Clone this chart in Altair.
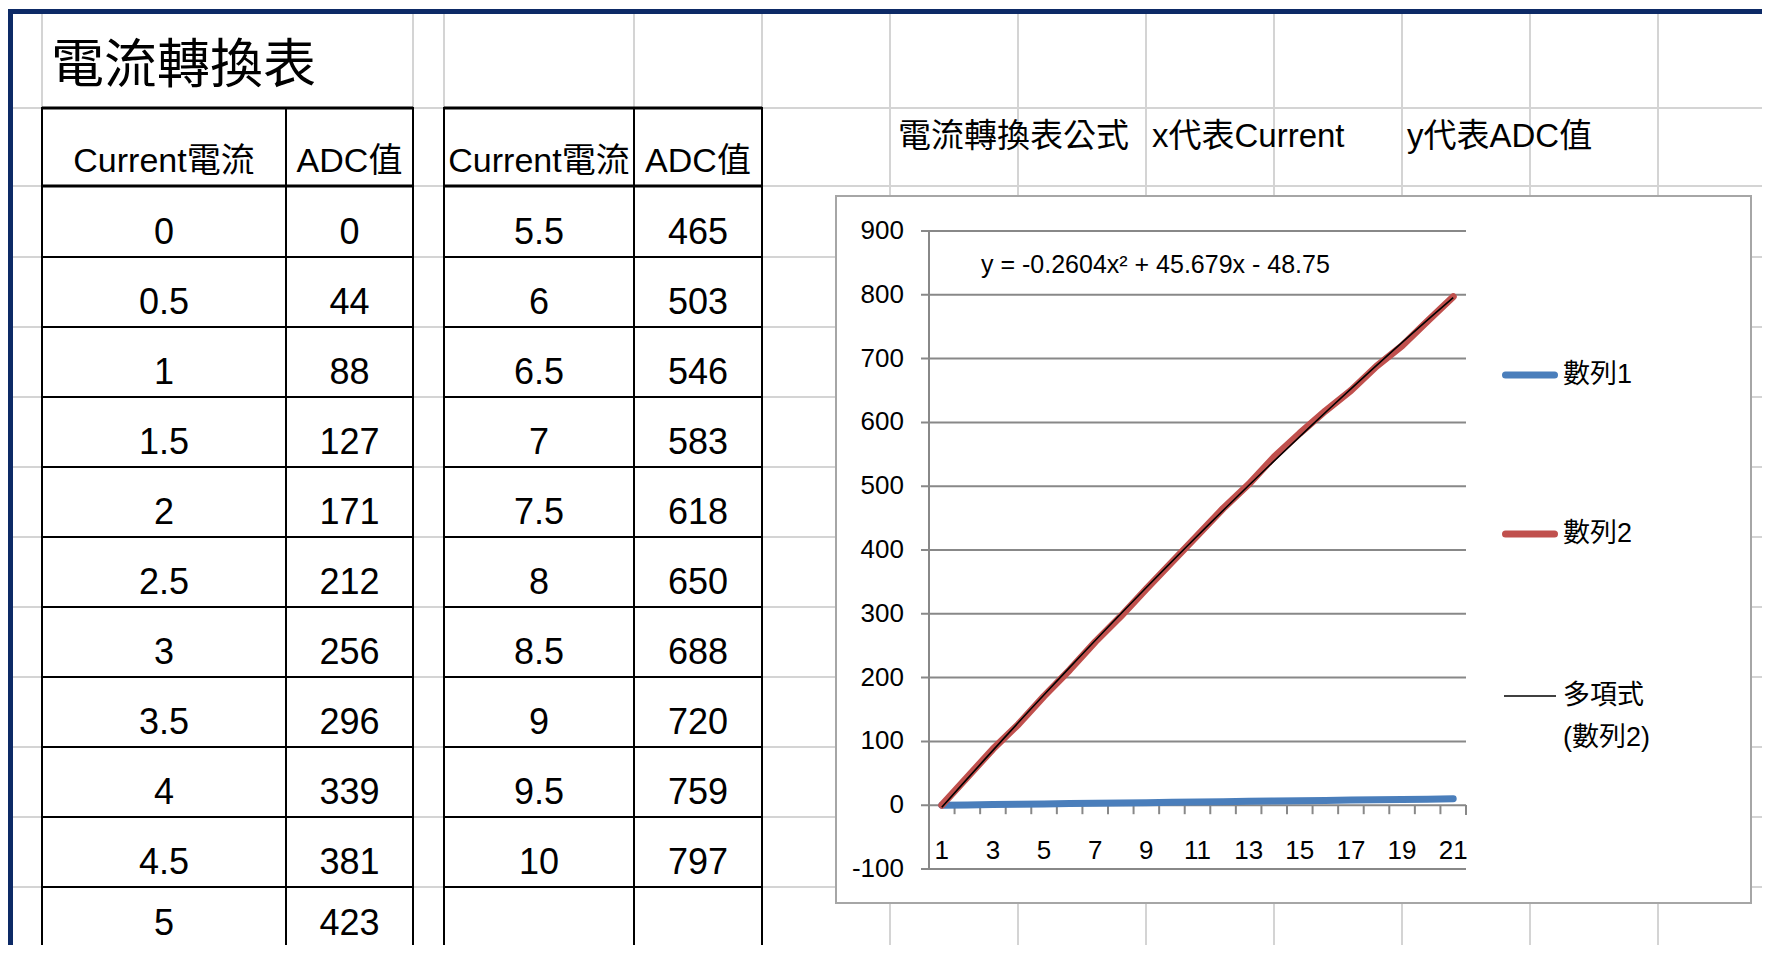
import altair as alt
import pandas as pd

# ---------------- data ----------------
categories = [1, 2, 3, 4, 5, 6, 7, 8, 9, 10, 11, 12, 13, 14, 15, 16, 17, 18, 19, 20, 21]
current = [0, 0.5, 1, 1.5, 2, 2.5, 3, 3.5, 4, 4.5, 5, 5.5, 6, 6.5, 7, 7.5, 8, 8.5, 9, 9.5, 10]
adc = [0, 44, 88, 127, 171, 212, 256, 296, 339, 381, 423, 465, 503, 546, 583, 618, 650, 688, 720, 759, 797]
series_names = ["數列1", "數列2"]
trend_label = ["多項式", "(數列2)"]
y_ticks = [-100, 0, 100, 200, 300, 400, 500, 600, 700, 800, 900]
x_tick_labels = [1, 3, 5, 7, 9, 11, 13, 15, 17, 19, 21]
sheet_title = "電流轉換表"
table_headers = ["Current電流", "ADC值"]
formula_cells = ["電流轉換表公式", "x代表Current", "y代表ADC值"]
equation = "y = -0.2604x² + 45.679x - 48.75"

# ---------------- layout / style ----------------
M = 8
W, H = 1754, 937
FONT_LAT = "Liberation Sans, Noto Sans CJK TC, sans-serif"
FONT_CJK = "Noto Sans CJK TC, sans-serif"
SHEET_GRID = "#d4d4d4"
NAVY = "#0d2a66"
AXIS_GREY = "#888888"
BLUE = "#4a7ebb"
RED = "#c0504d"

GRID_X = [42, 413, 444, 634, 762, 890, 1018, 1146, 1274, 1402, 1530, 1658]
ROW_H = 70
GRID_Y = [108, 186] + [257 + ROW_H * k for k in range(10)]
TABLE_COLS = [(42, 286, 413), (444, 634, 762)]
LAST_BASELINE = 935  # keep the bottom row inside the canvas


def pscale_x():
    return alt.Scale(domain=[M, W + M], range=[0, W], nice=False, zero=False)


def pscale_y():
    return alt.Scale(domain=[M, H + M], range=[0, H], nice=False, zero=False)


def PX(f):
    return alt.X(f"{f}:Q", scale=pscale_x(), axis=None)


def PY(f):
    return alt.Y(f"{f}:Q", scale=pscale_y(), axis=None)


def CXS():
    return alt.Scale(domain=[0.5, 21.5], range=[929 - M, 1466 - M], nice=False, zero=False)


def CYS():
    return alt.Scale(domain=[-100, 900], range=[869 - M, 231 - M], nice=False, zero=False)


# ---------------- sheet rules ----------------
rules = []


def add_rule(x1, y1, x2, y2, c, w):
    rules.append(dict(x=x1, y=y1, x2=x2, y2=y2, c=c, w=w))


for gx in GRID_X:
    add_rule(gx, 14, gx, 960, SHEET_GRID, 2)
for gy in GRID_Y:
    add_rule(13, gy, 1775, gy, SHEET_GRID, 2)

for (l, m, r) in TABLE_COLS:
    add_rule(l, 108, r, 108, "black", 3)
    add_rule(l, 186, r, 186, "black", 3)
    for k in range(10):
        yy = 257 + ROW_H * k
        add_rule(l, yy, r, yy, "black", 2)
    for xx in (l, m, r):
        add_rule(xx, 107, xx, 960, "black", 2)

add_rule(8, 11.5, 1775, 11.5, NAVY, 5)
add_rule(10.5, 9, 10.5, 960, NAVY, 5)

rules_df = pd.DataFrame(rules)
sheet_rules = alt.Chart(rules_df).mark_rule(strokeCap="butt").encode(
    x=PX("x"), x2="x2", y=PY("y"), y2="y2",
    color=alt.Color("c:N", scale=None),
    strokeWidth=alt.StrokeWidth("w:Q", scale=None),
)


def text_layer(df, size, font, align="left", baseline="alphabetic"):
    return alt.Chart(df).mark_text(
        fontSize=size, font=font, align=align, baseline=baseline, color="black"
    ).encode(x=PX("x"), y=PY("y"), text="t:N")


title_df = pd.DataFrame([dict(x=51, y=83, t=sheet_title)])

hdr = []
for (l, m, r) in TABLE_COLS:
    hdr.append(dict(x=(l + m) / 2, y=172, t=table_headers[0]))
    hdr.append(dict(x=(m + r) / 2, y=172, t=table_headers[1]))
hdr_df = pd.DataFrame(hdr)

cells = []
for i, (c, a) in enumerate(zip(current, adc)):
    t, r = divmod(i, 11)
    l, m, rr = TABLE_COLS[t]
    yy = min(244 + ROW_H * r, LAST_BASELINE)
    cells.append(dict(x=(l + m) / 2, y=yy, t=f"{c:g}"))
    cells.append(dict(x=(m + rr) / 2, y=yy, t=f"{a}"))
cells_df = pd.DataFrame(cells)

formula_df = pd.DataFrame([dict(x=x, y=147, t=t) for x, t in zip([898, 1152, 1407], formula_cells)])

frame_df = pd.DataFrame([dict(x=836, x2=1751, y=196, y2=903)])
frame = alt.Chart(frame_df).mark_rect(fill="white", stroke="#a6a6a6", strokeWidth=2).encode(
    x=PX("x"), x2="x2", y=PY("y"), y2="y2"
)

# ---------------- line chart (own scales) ----------------
series_df = pd.DataFrame({"idx": categories, "current": current, "adc": adc})
ticks_df = pd.DataFrame({"v": y_ticks})
xlab_df = pd.DataFrame({"idx": x_tick_labels})

gridlines = alt.Chart(ticks_df).mark_rule(color=AXIS_GREY, strokeWidth=2, xOffset=-8).encode(
    x=alt.XDatum(0.5, type="quantitative", scale=CXS(), axis=None),
    x2=alt.X2Datum(21.5),
    y=alt.Y("v:Q", scale=CYS(), axis=None),
)
yaxis_line = alt.Chart(ticks_df).mark_rule(color=AXIS_GREY, strokeWidth=2).encode(
    x=alt.XDatum(0.5, type="quantitative", scale=CXS(), axis=None),
    y=alt.YDatum(-100, type="quantitative", scale=CYS(), axis=None),
    y2=alt.Y2Datum(900),
)
xticks = alt.Chart(series_df).transform_calculate(b="datum.idx - 0.5").mark_rule(
    color=AXIS_GREY, strokeWidth=2, y2Offset=9
).encode(
    x=alt.X("b:Q", scale=CXS(), axis=None),
    y=alt.YDatum(0, type="quantitative", scale=CYS(), axis=None),
    y2=alt.Y2Datum(0),
)
xtick_last = alt.Chart(ticks_df).mark_rule(color=AXIS_GREY, strokeWidth=2, y2Offset=9).encode(
    x=alt.XDatum(21.5, type="quantitative", scale=CXS(), axis=None),
    y=alt.YDatum(0, type="quantitative", scale=CYS(), axis=None),
    y2=alt.Y2Datum(0),
)
ylabels = alt.Chart(ticks_df).transform_calculate(lab="'' + datum.v").mark_text(
    font=FONT_LAT, fontSize=26, align="right", baseline="middle", dx=-25, dy=0, color="black"
).encode(
    x=alt.XDatum(0.5, type="quantitative", scale=CXS(), axis=None),
    y=alt.Y("v:Q", scale=CYS(), axis=None),
    text=alt.Text("lab:N"),
)
xlabels = alt.Chart(xlab_df).transform_calculate(lab="'' + datum.idx").mark_text(
    font=FONT_LAT, fontSize=26, align="center", baseline="middle", dy=46, color="black"
).encode(
    x=alt.X("idx:Q", scale=CXS(), axis=None),
    y=alt.YDatum(0, type="quantitative", scale=CYS(), axis=None),
    text=alt.Text("lab:N"),
)
blue_line = alt.Chart(series_df).mark_line(
    color=BLUE, strokeWidth=7, strokeCap="round", strokeJoin="round"
).encode(
    x=alt.X("idx:Q", scale=CXS(), axis=None),
    y=alt.Y("current:Q", scale=CYS(), axis=None),
)
red_line = alt.Chart(series_df).mark_line(
    color=RED, strokeWidth=7, strokeCap="round", strokeJoin="round"
).encode(
    x=alt.X("idx:Q", scale=CXS(), axis=None),
    y=alt.Y("adc:Q", scale=CYS(), axis=None),
)
trend = alt.Chart(series_df).transform_regression(
    "idx", "adc", method="poly", order=2
).mark_line(color="black", strokeWidth=1.6).encode(
    x=alt.X("idx:Q", scale=CXS(), axis=None),
    y=alt.Y("adc:Q", scale=CYS(), axis=None),
)

# ---------------- legend ----------------
leg_rules_df = pd.DataFrame([
    dict(x=1505.5, x2=1554.5, y=375, y2=375, c=BLUE, w=7),
    dict(x=1505.5, x2=1554.5, y=534, y2=534, c=RED, w=7),
])
leg_rules = alt.Chart(leg_rules_df).mark_rule(strokeCap="round").encode(
    x=PX("x"), x2="x2", y=PY("y"), y2="y2",
    color=alt.Color("c:N", scale=None),
    strokeWidth=alt.StrokeWidth("w:Q", scale=None),
)
leg_trend_df = pd.DataFrame([dict(x=1504, x2=1556, y=696, y2=696)])
leg_trend = alt.Chart(leg_trend_df).mark_rule(color="black", strokeWidth=1.6).encode(
    x=PX("x"), x2="x2", y=PY("y"), y2="y2"
)
leg_text_df = pd.DataFrame([
    dict(x=1563, y=375, t=series_names[0]),
    dict(x=1563, y=534, t=series_names[1]),
    dict(x=1563, y=696, t=trend_label[0]),
    dict(x=1563, y=738, t=trend_label[1]),
])

eq_df = pd.DataFrame([dict(x=981, y=273, t=equation)])

layers = [
    sheet_rules,
    text_layer(title_df, 53, FONT_CJK),
    text_layer(hdr_df, 34, FONT_LAT, align="center"),
    text_layer(cells_df, 36, FONT_LAT, align="center"),
    text_layer(formula_df, 33, FONT_LAT),
    frame,
    gridlines,
    yaxis_line,
    xticks,
    xtick_last,
    blue_line,
    red_line,
    trend,
    ylabels,
    xlabels,
    text_layer(eq_df, 25, FONT_LAT),
    leg_rules,
    leg_trend,
    text_layer(leg_text_df, 27, FONT_LAT, baseline="middle"),
]

chart = alt.layer(*layers).resolve_scale(
    x="independent", y="independent"
).properties(
    width=W, height=H, padding=0,
    autosize=alt.AutoSizeParams(type="none"),
    background="white",
).configure_view(stroke=None)

chart.save("out.html", embed_options={"renderer": "svg", "actions": False})
